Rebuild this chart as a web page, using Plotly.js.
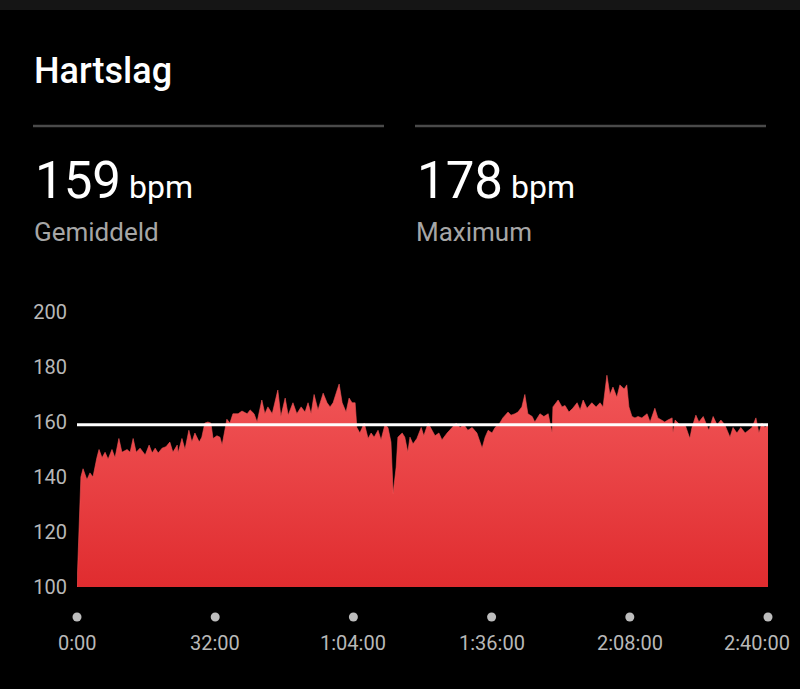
<!DOCTYPE html>
<html>
<head>
<meta charset="utf-8">
<script src="https://cdn.plot.ly/plotly-3.0.1.min.js"></script>
<style>
  html, body { margin: 0; padding: 0; background: #000; }
  #chart { width: 800px; height: 689px; }
</style>
</head>
<body>
<div id="chart"></div>
<script>
// ---- data (minutes since start, heart rate in bpm) ----
const times = [0, 0.7, 0.9, 1.4, 2.3, 3.0, 3.7, 4.6, 5.1, 5.8, 6.5, 7.2, 8.1, 8.8, 9.7, 10.4, 11.6, 12.3, 13.0, 13.7,
  14.6, 15.8, 16.7, 17.4, 18.1, 18.8, 19.7, 20.6, 21.5, 22.2, 23.2, 23.4, 24.3, 25.0, 25.9, 26.6, 27.3, 28.3, 28.9, 29.6,
  30.3, 31.0, 31.5, 32.4, 33.1, 33.6, 34.7, 35.4, 36.1, 37.3, 38.2, 39.4, 40.1, 41.0, 41.7, 42.8, 43.5, 44.2, 45.2, 46.5,
  47.2, 48.2, 48.9, 50.0, 50.9, 51.9, 52.8, 53.5, 54.2, 54.9, 55.8, 57.0, 57.9, 58.6, 59.3, 60.0, 60.7, 61.4, 62.3, 63.0,
  63.7, 64.4, 64.8, 65.5, 66.5, 67.4, 68.1, 68.8, 69.7, 70.4, 71.3, 72.0, 72.7, 73.2, 73.9, 74.3, 75.3, 75.9, 76.6, 77.1,
  77.8, 78.7, 79.7, 80.3, 81.3, 82.2, 82.9, 83.8, 84.5, 85.7, 86.8, 87.8, 88.7, 89.6, 90.5, 91.5, 92.6, 93.8, 94.5, 95.2,
  96.1, 96.8, 97.9, 98.6, 99.8, 100.5, 101.4, 102.1, 103.0, 103.7, 104.4, 105.4, 106.0, 107.2, 108.1, 109.1, 110.0, 110.2,
  111.4, 112.3, 113.0, 113.9, 114.8, 115.8, 116.5, 117.2, 118.1, 119.2, 120.2, 121.1, 121.8, 122.7, 123.4, 124.1, 125.0,
  125.7, 126.7, 127.3, 127.8, 128.5, 129.2, 129.9, 130.8, 132.0, 132.7, 133.8, 134.5, 135.5, 136.1, 136.8, 137.8, 138.0,
  138.5, 139.6, 140.8, 141.9, 142.4, 143.3, 144.0, 145.0, 145.9, 146.3, 147.3, 148.2, 149.1, 150.0, 151.2, 151.9, 152.8,
  153.7, 154.7, 155.4, 156.3, 157.2, 157.9, 158.6, 159.3, 160];
const hr = [100, 138, 140, 143, 139, 141.5, 140, 147, 150, 147, 149, 146.5, 150, 147, 154, 149, 150, 149, 154, 149,
  150.5, 148, 151.6, 148.7, 150.5, 148.7, 150.5, 151, 152.7, 149, 151.6, 148.7, 154, 150, 157, 152.7, 156, 152.7, 154.5, 159.6,
  160, 159.6, 154, 155, 154.5, 151.6, 161, 159.6, 163, 163, 164, 163, 164.4, 163, 160, 168, 163, 165.5, 163, 171.6,
  162, 168.7, 162.5, 167, 163, 165.5, 163.6, 167, 163, 170, 164.4, 170.5, 167, 165.5, 167, 170.5, 173.8, 167, 163.6, 168.7,
  167, 167, 158, 156, 159.6, 154, 156, 154.5, 157, 153.5, 159, 158, 152.7, 134, 143.6, 154.5, 156, 154.5, 149, 154.5,
  152, 154, 158, 155, 159.6, 157, 155, 156, 153.5, 156, 158, 159.6, 158, 159, 157, 158, 156, 150.5, 154.5, 157,
  156, 158, 159.6, 161.5, 163.6, 162.5, 163, 163.6, 165.5, 170, 163, 162, 160, 163, 162, 163, 156, 165.5,
  168, 165.5, 166, 163.6, 165, 167, 164.4, 168, 165, 167, 165.5, 167, 165.5, 177, 170, 172.7, 169,
  173.5, 172, 173.5, 165.5, 162, 161.5, 162, 161.5, 163, 160, 165, 161.5, 160.7, 160, 160.7, 161.5, 156,
  160.7, 159, 159, 154, 158, 162.5, 160, 162, 158, 157, 162, 159, 160.7, 159, 154.5, 158, 156,
  158, 156, 157, 158, 161.5, 156, 159.6, 158, 159];
const yTickVals = [100, 120, 140, 160, 180, 200];
const xRange = [0, 160];
const xTickVals = [0, 32, 64, 96, 128, 160];
const xTickText = ['0:00', '32:00', '1:04:00', '1:36:00', '2:08:00', '2:40:00'];
const avgHr = 159;
const maxHr = 178;
const avgLabel = 'Gemiddeld';
const maxLabel = 'Maximum';
const unit = 'bpm';
const chartTitle = 'Hartslag';

// ---- layout helpers (pixel -> paper) ----
const W = 800, H = 689;
const L = 77, R = 768, T = 312, B = 587;
const px = x => (x - L) / (R - L);
const py = y => (B - y) / (B - T);
const xToPaper = v => (v - xRange[0]) / (xRange[1] - xRange[0]);

const baseline = times.map(() => yTickVals[0]);

const traces = [
  { x: times, y: baseline, type: 'scatter', mode: 'lines', line: { width: 0, color: 'rgba(0,0,0,0)' }, hoverinfo: 'skip', showlegend: false },
  {
    x: times, y: hr, type: 'scatter', mode: 'lines', fill: 'tonexty',
    line: { width: 0.6, color: '#f05456', shape: 'linear' },
    fillgradient: { type: 'vertical', start: 100, stop: 180,
      colorscale: [[0, '#e02c2f'], [1, '#f2585a']] },
    fillcolor: '#e8434a', showlegend: false
  }
];

const annotations = [
  { text: avgHr + '<span style="font-size:32px"> ' + unit + '</span>', x: px(33), y: py(180), xanchor: 'left', yanchor: 'middle',
    font: { family: 'Roboto', size: 51, color: '#ffffff' } },
  { text: maxHr + '<span style="font-size:32px"> ' + unit + '</span>', x: px(415), y: py(180), xanchor: 'left', yanchor: 'middle',
    font: { family: 'Roboto', size: 51, color: '#ffffff' } },
  { text: avgLabel, x: px(32), y: py(232), xanchor: 'left', yanchor: 'middle',
    font: { family: 'Roboto', size: 26, color: '#a6a6a6' } },
  { text: maxLabel, x: px(414), y: py(232), xanchor: 'left', yanchor: 'middle',
    font: { family: 'Roboto', size: 26, color: '#a6a6a6' } }
].map(a => Object.assign({ xref: 'paper', yref: 'paper', showarrow: false }, a));

xTickVals.forEach((v, i) => {
  const last = i === xTickVals.length - 1;
  annotations.push({
    text: xTickText[i], x: v, xref: 'x', y: py(643), yref: 'paper',
    xanchor: last ? 'right' : 'center', xshift: last ? 24 : 0, yanchor: 'middle', showarrow: false,
    font: { family: 'Roboto', size: 20, color: '#b8b8b8' }
  });
});

const shapes = [
  { type: 'rect', xref: 'paper', yref: 'paper', x0: px(0), x1: px(800), y0: py(0), y1: py(10), fillcolor: '#151515', line: { width: 0 } },
  { type: 'line', xref: 'paper', yref: 'paper', x0: px(33), x1: px(384), y0: py(126), y1: py(126), line: { color: '#4a4a4a', width: 2.5 } },
  { type: 'line', xref: 'paper', yref: 'paper', x0: px(415), x1: px(766), y0: py(126), y1: py(126), line: { color: '#4a4a4a', width: 2.5 } },
  { type: 'line', xref: 'paper', yref: 'y', x0: 0, x1: 1, y0: avgHr, y1: avgHr, line: { color: '#ffffff', width: 3 }, layer: 'above' }
];
xTickVals.forEach(v => {
  shapes.push({ type: 'circle', xref: 'paper', yref: 'paper', xsizemode: 'pixel', ysizemode: 'pixel',
    xanchor: xToPaper(v), yanchor: py(617), x0: -4.5, x1: 4.5, y0: -4.5, y1: 4.5, fillcolor: '#bdbdbd', line: { width: 0 } });
});

const layout = {
  width: W, height: H,
  paper_bgcolor: '#000000', plot_bgcolor: '#000000',
  margin: { l: L, r: W - R, t: T, b: H - B, pad: 0 },
  title: { text: chartTitle, xref: 'container', x: 34 / W, xanchor: 'left', yref: 'container', y: 1 - 70 / H, yanchor: 'middle',
    font: { family: 'Roboto', size: 36, color: '#ffffff', weight: 500 } },
  xaxis: { range: xRange, showgrid: false, zeroline: false, showline: false, showticklabels: false, ticks: '', fixedrange: true },
  yaxis: { range: [100, 200], tickvals: yTickVals, showgrid: false, zeroline: false, showline: false, ticks: '',
    ticklabelstandoff: 9, tickfont: { family: 'Roboto', size: 20, color: '#b8b8b8' }, fixedrange: true },
  annotations: annotations,
  shapes: shapes,
  showlegend: false,
  hovermode: false
};

Plotly.newPlot('chart', traces, layout, { staticPlot: true, displayModeBar: false });
</script>
</body>
</html>
